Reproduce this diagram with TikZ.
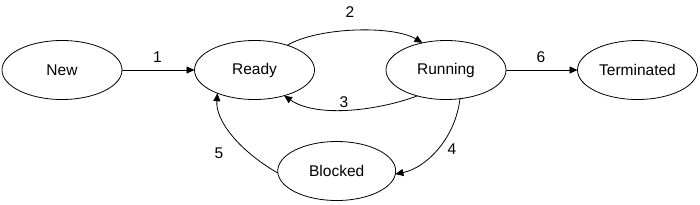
\documentclass[tikz,border=0pt]{standalone}
\usepackage{fontspec}
\setmainfont{Liberation Sans}
\usetikzlibrary{shapes.geometric,arrows.meta}
\begin{document}
\begin{tikzpicture}[x=1pt,y=-1pt,
  state/.style={draw,ellipse,line width=0.8pt,minimum width=120pt,minimum height=59pt,inner sep=0pt,outer sep=0pt,font=\fontsize{15.5}{18}\selectfont},
  lbl/.style={font=\fontsize{15.5}{18}\selectfont,inner sep=0pt},
  conn/.style={line width=0.8pt,-{Triangle[length=8pt,width=7pt]}}]
\useasboundingbox (0,0) rectangle (700,204);
\node[state] (new) at (62,70) {New};
\node[state] (ready) at (254.5,70) {Ready};
\node[state] (running) at (446,70) {Running};
\node[state] (term) at (637.5,70) {Terminated};
\node[state,minimum width=118pt] (blocked) at (336.7,171) {Blocked};
\draw[conn] (new.east) -- (ready.west);
\draw[conn] (running.east) -- (term.west);
\draw[conn] (ready.37) .. controls +(30,-18) and +(-30,-18) .. (running.131);
\draw[conn] (running.222) .. controls +(-37,14) and +(34,23) .. (ready.319);
\draw[conn] (running.296) .. controls +(-5,41) and +(30,-6) .. (blocked.357);
\draw[conn] (blocked.182) .. controls +(-38,-22) and +(-2,28) .. (ready.212);
\node[lbl] (l1) at (157.5,57) {1};
\node[lbl] (l2) at (350,12) {2};
\node[lbl] (l3) at (344,102) {3};
\node[lbl] (l4) at (452,149) {4};
\node[lbl] (l5) at (219,153) {5};
\node[lbl] (l6) at (541,57) {6};
\end{tikzpicture}
\end{document}
